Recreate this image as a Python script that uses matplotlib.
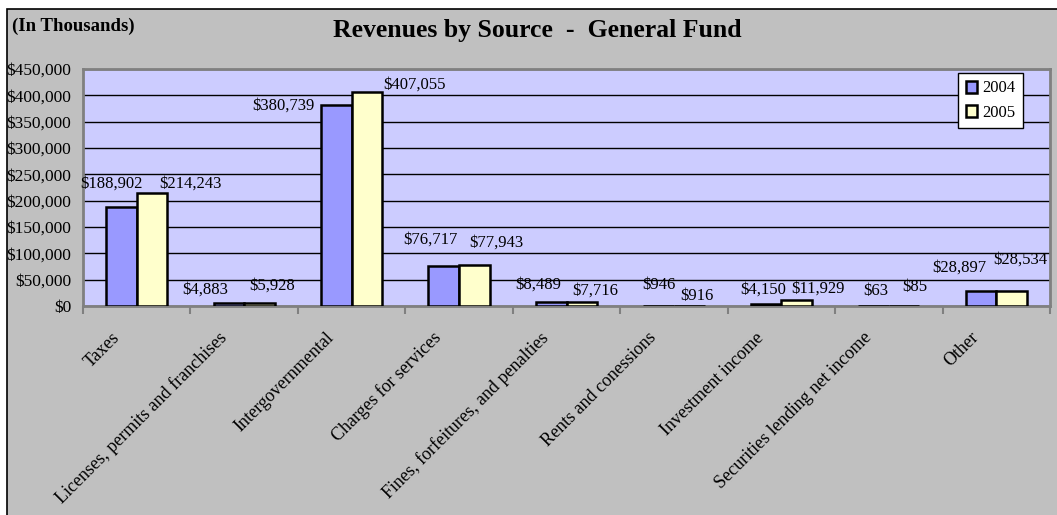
import matplotlib.pyplot as plt
import numpy as np
from matplotlib.patches import Rectangle
from matplotlib.ticker import FuncFormatter

categories = ['Taxes', 'Licenses, permits and franchises', 'Intergovernmental',
              'Charges for services', 'Fines, forfeitures, and penalties',
              'Rents and conessions', 'Investment income',
              'Securities lending net income', 'Other']
v2004 = [188902, 4883, 380739, 76717, 8489, 946, 4150, 63, 28897]
v2005 = [214243, 5928, 407055, 77943, 7716, 916, 11929, 85, 28534]

# label offsets (pixels) as Excel placed them
off04 = [(-10, 23), (-24, 14), (-53, 0), (-13, 26), (-13, 17), (0, 21), (-3, 14), (2, 15), (-22, 23)]
off05 = [(38, 10), (13, 17), (48, 7), (22, 22), (13, 11), (8, 10), (21, 11), (11, 19), (9, 31)]

plt.rcParams['font.family'] = ['Liberation Serif', 'DejaVu Serif']

fig = plt.figure(figsize=(10.57, 5.15), dpi=100)
fig.patches.append(Rectangle((7/1057, -0.01), 1.0, (515-9)/515 + 0.01, transform=fig.transFigure,
                             facecolor='#C0C0C0', edgecolor='black', linewidth=1.2, zorder=-10))

ax = fig.add_axes([83/1057, (515-306)/515, (1050-83)/1057, (306-69)/515])
ax.set_facecolor('#CCCCFF')

x = np.arange(len(categories))
w = 0.285
b1 = ax.bar(x - w/2, v2004, w, color='#9999FF', edgecolor='black', linewidth=1.8, label='2004', zorder=3)
b2 = ax.bar(x + w/2, v2005, w, color='#FFFFCC', edgecolor='black', linewidth=1.8, label='2005', zorder=3)

fs = 12
for i in range(len(categories)):
    ax.annotate('${:,}'.format(v2004[i]), (x[i] - w/2, v2004[i]), xytext=off04[i],
                textcoords='offset pixels', ha='center', va='center', fontsize=fs, zorder=4)
    ax.annotate('${:,}'.format(v2005[i]), (x[i] + w/2, v2005[i]), xytext=off05[i],
                textcoords='offset pixels', ha='center', va='center', fontsize=fs, zorder=4)
    ax.annotate(categories[i], (x[i], 0), xytext=(-14, -23), textcoords='offset pixels',
                ha='right', va='top', rotation=45, fontsize=13, annotation_clip=False)

ax.set_xlim(-0.5, len(categories) - 0.5)
ax.set_ylim(0, 450000)
ax.set_yticks(np.arange(0, 450001, 50000))
ax.yaxis.set_major_formatter(FuncFormatter(lambda v, p: '${:,.0f}'.format(v)))
ax.grid(axis='y', color='black', linewidth=1, zorder=1)
ax.set_xticks(np.arange(-0.5, len(categories)), [''] * (len(categories) + 1))
ax.tick_params(axis='x', length=6, width=1.5, color='#808080', direction='out')
ax.tick_params(axis='y', length=0, pad=8.5, labelsize=12.5)
for s in ax.spines.values():
    s.set_color('#808080')
    s.set_linewidth(2)

leg = ax.legend(loc='upper right', fontsize=fs, frameon=True, fancybox=False, edgecolor='black', framealpha=1,
                handlelength=0.7, handleheight=0.7, handletextpad=0.3, borderpad=0.45, labelspacing=0.5,
                borderaxespad=0)
leg.get_frame().set_linewidth(1)
leg.set_bbox_to_anchor((1023/1057, 442/515), transform=fig.transFigure)

fig.text(12/1057, 1 - 26/515, '(In Thousands)', fontsize=13.5, fontweight='bold', va='center', ha='left')
fig.text(537/1057, 1 - 31/515, 'Revenues by Source  -  General Fund', fontsize=18.5,
         fontweight='bold', va='center', ha='center')

fig.savefig('out.png', dpi=100)
